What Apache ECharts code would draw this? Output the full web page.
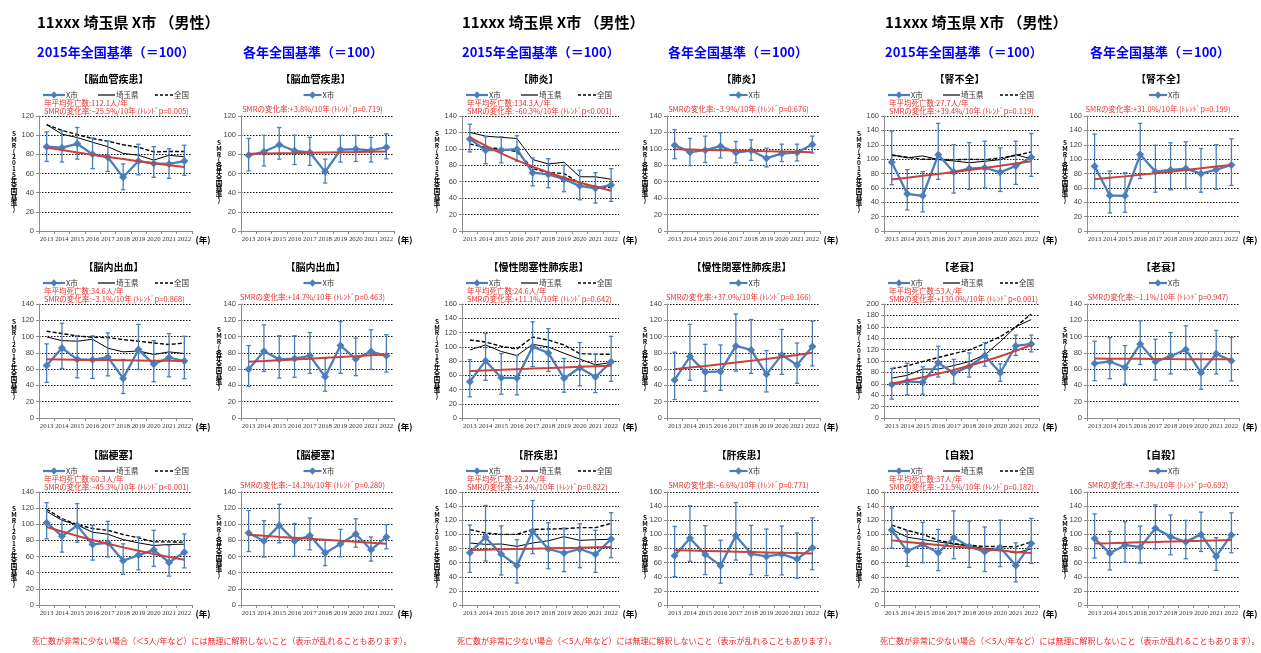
<!DOCTYPE html>
<html>
<head>
<meta charset="utf-8">
<script src="https://cdn.jsdelivr.net/npm/echarts@6/dist/echarts.min.js"></script>
<style>
html,body{margin:0;padding:0;background:#fff;}
#chart{width:1261px;height:653px;}
</style>
</head>
<body>
<div id="chart"></div>
<script>
// ---- data -------------------------------------------------------------
const years = ['2013','2014','2015','2016','2017','2018','2019','2020','2021','2022'];

// causes in panel order (row by row, three per row)
const causes = ['脳血管疾患','肺炎','腎不全','脳内出血','慢性閉塞性肺疾患','老衰','脳梗塞','肝疾患','自殺'];

// SMR of X市 against the 2015 national rate (=100)
const city2015 = [
  [88, 87, 91, 80, 77, 56, 73, 70.5, 70, 73],
  [112, 98.4, 98.4, 99.6, 71, 69, 63, 55, 52, 56],
  [95.6, 51.8, 49, 106, 82, 86.8, 88, 81.6, 90.5, 102.6],
  [64.5, 86, 72, 71.4, 74.7, 48.6, 84, 66, 74.3, 70],
  [51, 80.2, 56.6, 56, 100, 91.4, 55.7, 70.5, 57.5, 78.8],
  [58.6, 64.3, 62.6, 96.8, 78.8, 90.4, 109.6, 79.4, 126.4, 129.9],
  [102, 85.2, 98.4, 75, 77, 54.8, 61.8, 68.3, 52.7, 65.5],
  [74, 95.8, 71.7, 56, 104.3, 79.3, 73.6, 79.3, 71.7, 93.4],
  [106.2, 76.3, 85.6, 73.9, 95.4, 82.8, 75.3, 81.4, 56.1, 87]
];
const low2015 = [
  [72.6, 72, 75, 65, 62, 43, 58.6, 56, 55, 58],
  [96.3, 82, 83, 85, 55, 52.6, 47.8, 38, 34, 36],
  [64.4, 29.4, 26.6, 71.8, 52.7, 57.8, 60, 55, 64.8, 76],
  [43.7, 60.8, 49.4, 48.6, 51.8, 30, 59.6, 44.5, 50.6, 48.2],
  [29.7, 52.9, 33.4, 32.5, 72.4, 65.4, 36.2, 45, 35.7, 51.5],
  [33, 40.6, 41.7, 71.9, 59.7, 71.9, 91, 64.3, 109.6, 116],
  [82, 65.5, 77.8, 55.6, 59.7, 37.9, 43.6, 47.8, 35.8, 46],
  [46.2, 62.3, 42.5, 31.1, 72.7, 51.4, 47.2, 52.8, 46.2, 67],
  [80.5, 54.7, 59.9, 48.7, 65.5, 53.3, 47.3, 54.3, 32.7, 59]
];
const high2015 = [
  [103.5, 104.6, 108, 97, 94, 70, 90.5, 88, 86, 89.5],
  [130, 114.7, 114.7, 116, 89, 88, 80, 74, 71, 76],
  [139, 85.4, 82.6, 149.7, 120, 123, 125, 115.6, 125, 135.7],
  [91, 116.3, 101.2, 100.8, 104.5, 72, 115, 95, 103.7, 100.4],
  [82, 118.7, 90.4, 87.7, 135, 125.4, 83.5, 106, 89.5, 114.6],
  [87, 96, 89.9, 125.8, 103, 114.2, 132.2, 95, 145.5, 145.5],
  [126.8, 106.2, 125.6, 98.8, 103.7, 75.8, 84.4, 92.6, 74, 88],
  [113.3, 141, 112, 92.5, 148, 116.6, 109, 115, 105.7, 130.7],
  [137.5, 104.8, 117, 107, 133.3, 118.8, 110.4, 120.2, 88, 122.6]
];
// 埼玉県 and 全国, same base
const pref2015 = [
  [111, 101, 97.5, 92.6, 88, 81, 79, 74, 79, 77.5],
  [120, 115.5, 114, 112.6, 87, 81.6, 83.7, 66, 66, 63],
  [106.3, 101.7, 104.5, 99.3, 97.5, 95, 97, 99.3, 106.3, 100.3],
  [99.6, 95, 94.3, 96.7, 85.7, 81.2, 82.4, 78, 81.2, 79.2],
  [95.5, 102.5, 93.3, 87.7, 103.4, 99.7, 90.9, 82.6, 74.7, 77.9],
  [70, 74.8, 85.8, 85.8, 92, 99, 110.7, 134, 160, 172.7],
  [116, 105, 99.2, 90.2, 87.7, 81, 77, 73.7, 75, 75.3],
  [87.8, 85.9, 86.4, 83, 87.8, 91, 96.7, 91.5, 92.5, 93],
  [107, 96, 92.6, 89.4, 86, 83.7, 80, 78.6, 73.5, 79.5]
];
const nation2015 = [
  [111, 105, 100.7, 96.5, 93.7, 90, 87.4, 82.5, 83, 83],
  [106, 101.6, 100, 96.7, 76, 71, 70, 58, 54, 53],
  [105.4, 102.6, 99.8, 99.8, 99, 99.8, 99.3, 101.7, 105, 110],
  [106.5, 103.7, 100.8, 99.2, 98.8, 96.3, 94.3, 92.2, 90.2, 92.2],
  [109.4, 106.6, 100.6, 96.9, 113.6, 109.4, 102.5, 90.4, 89.5, 89.5],
  [86.4, 91.6, 99, 106, 113, 119.4, 130.4, 142.6, 160, 182.6],
  [118.6, 107, 99.6, 94.7, 92.6, 87.3, 83.2, 78.2, 78.2, 77.8],
  [106.7, 102, 100, 100, 107, 107.6, 108, 109.5, 109.5, 115.6],
  [113.2, 105.7, 100, 91.7, 87, 84.7, 82.8, 82.8, 82.3, 89.4]
];
// fitted trend of X市, 2015 base
const trend2015 = [
  [87, 84.5, 82.0, 79.6, 77.3, 75.1, 72.9, 70.8, 68.7, 66.7],
  [114, 103.8, 94.5, 86.0, 78.3, 71.3, 64.9, 59.1, 53.8, 49.0],
  [71.8, 74.2, 76.8, 79.4, 82.1, 84.9, 87.8, 90.8, 93.9, 97.0],
  [72, 71.8, 71.6, 71.3, 71.1, 70.9, 70.7, 70.4, 70.2, 70],
  [66, 66.8, 67.6, 68.5, 69.3, 70.1, 71.0, 71.8, 72.7, 73.5],
  [60.5, 65.8, 71.5, 77.7, 84.4, 91.8, 99.7, 108.4, 117.8, 128.0],
  [96.7, 91.0, 85.6, 80.6, 75.9, 71.4, 67.2, 63.2, 59.5, 56.0],
  [78, 78.4, 78.9, 79.3, 79.8, 80.2, 80.7, 81.1, 81.6, 82],
  [91.5, 89.3, 87.1, 85.0, 82.9, 80.9, 78.9, 77.0, 75.1, 73.5]
];

// SMR of X市 against each year's national rate (=100)
const cityAnnual = [
  [79, 82.7, 90, 83.7, 82, 61.7, 84.8, 85.5, 84, 87.5],
  [104.5, 96, 98.4, 103.3, 95.5, 98, 88.6, 94.3, 95.5, 105.3],
  [90, 49.4, 49, 106.3, 82.6, 85, 86.8, 79.8, 85.4, 91.9],
  [60, 82, 72, 73, 76.3, 50.7, 88.9, 72.6, 81.6, 76.3],
  [46.7, 75.5, 56.4, 57.2, 88.5, 83.6, 53.6, 77.5, 65, 87.7],
  [67, 69.4, 62, 91, 69, 75.9, 84, 55.6, 79, 70.2],
  [89.2, 79.4, 98.6, 79.4, 86, 64.3, 75.7, 88, 68.4, 84.3],
  [69.6, 94.5, 71.6, 55.7, 98.2, 72.5, 68.8, 72, 65, 81],
  [94, 73.4, 85.1, 81.9, 108.5, 96.8, 89.4, 100, 68.8, 99.2]
];
const lowAnnual = [
  [62.8, 68, 75, 69.4, 68.4, 50, 71.9, 72.5, 72, 75.3],
  [88, 79.6, 83.3, 89, 83, 86, 78, 84.5, 85.3, 95],
  [58.8, 25.2, 26, 73, 54, 57.4, 58.8, 54, 58, 63.4],
  [38.6, 57.2, 49, 50, 54.8, 32.9, 54.8, 52, 59.7, 56.4],
  [22.7, 46.3, 32.9, 34, 57.6, 54.8, 32, 53.6, 42.6, 64],
  [45.9, 48.3, 41.4, 65.7, 46.7, 54, 59.3, 35.3, 54, 45.5],
  [66.3, 59.4, 77, 60.2, 68.4, 48.7, 59.8, 71.6, 54.4, 69.6],
  [40.2, 61.8, 43, 30.9, 63.6, 43, 41.6, 42.6, 37.9, 50],
  [66.4, 49.6, 60.4, 59.4, 79.5, 71.1, 65.5, 75.8, 49.1, 74]
];
const highAnnual = [
  [96.6, 99.8, 108, 100, 97.7, 75, 99.8, 99.8, 97.7, 101.5],
  [123.3, 112.7, 115.5, 119.6, 109, 111, 100.8, 105.7, 105.7, 115.5],
  [134.8, 83.5, 81, 149.7, 119.4, 122.7, 124, 114.7, 120, 128.3],
  [89, 114.4, 101, 101, 105, 73, 118.5, 98.2, 108.4, 102.3],
  [80.8, 115, 90.5, 89.7, 127.8, 121, 82.8, 108.8, 92, 119],
  [94.2, 98.6, 88.9, 119.3, 96.6, 105, 113.2, 79.5, 107.5, 99],
  [117, 104.4, 124.8, 101, 107.7, 80.6, 93.7, 106.8, 84.3, 99.5],
  [111.3, 140.4, 112.3, 91.7, 145, 112.7, 107.6, 111.8, 102, 123.5],
  [129, 104.3, 117.9, 111.8, 141.8, 127.3, 119.8, 131.5, 95.4, 130.5]
];
const trendAnnual = [
  [80.5, 80.8, 81.1, 81.3, 81.6, 81.9, 82.2, 82.4, 82.7, 83.0],
  [99.5, 99.1, 98.7, 98.3, 97.9, 97.6, 97.2, 96.8, 96.4, 96.0],
  [72, 74.0, 76.0, 78.1, 80.3, 82.5, 84.8, 87.2, 89.6, 92.0],
  [69, 69.9, 70.9, 71.9, 72.9, 73.9, 74.9, 75.9, 77.0, 78.0],
  [60, 61.9, 63.9, 66.0, 68.1, 70.3, 72.6, 74.9, 77.4, 80.0],
  [73, 72.9, 72.8, 72.7, 72.6, 72.4, 72.3, 72.2, 72.1, 72],
  [87, 85.7, 84.4, 83.2, 82.0, 80.8, 79.6, 78.4, 77.2, 76.0],
  [77.5, 77.0, 76.5, 76.0, 75.5, 75.0, 74.5, 74.0, 73.5, 73],
  [87, 87.5, 88.1, 88.7, 89.2, 89.8, 90.4, 90.9, 91.5, 92]
];

// value-axis tops
const yMax2015 = [120, 140, 160, 140, 160, 200, 140, 160, 160];
const yMaxAnnual = [120, 140, 160, 140, 140, 140, 140, 160, 160];

// annotation figures
const avgDeaths = ['112.1', '134.3', '27.7', '34.6', '24.6', '53', '60.3', '22.2', '37'];
const change2015 = ['−25.5', '−60.3', '+39.4', '−3.1', '+11.1', '+130.0', '−45.3', '+5.4', '−21.5'];
const trendP2015 = ['=0.005', '<0.001', '=0.119', '=0.868', '=0.642', '<0.001', '<0.001', '=0.822', '=0.182'];
const changeAnnual = ['+3.8', '−3.9', '+31.0', '+14.7', '+37.0', '−1.1', '−14.1', '−6.6', '+7.3'];
const trendPAnnual = ['=0.719', '=0.676', '=0.199', '=0.463', '=0.166', '=0.947', '=0.280', '=0.771', '=0.692'];

// ---- layout & style ---------------------------------------------------
const CJK = '"Noto Sans CJK JP", "Noto Sans", sans-serif';
const BLUE = '#4A7EBB';
const TREND_RED = '#C8413B';
const NOTE_RED = '#E5302A';
const AXIS_GREY = '#8c8c8c';

const leftX = [39, 462, 884], leftW = [153, 157, 155];
const rightX = [241, 667, 1087], rightW = [153, 153, 152];
const rowTop = [116, 304, 492], rowH = [115, 114, 113];
const headX = [37, 462, 885], headAnnualX = [243, 668, 1090];

const option = {
  animation: false,
  backgroundColor: '#fff',
  grid: [], xAxis: [], yAxis: [], series: [],
  graphic: { elements: [] }
};
const G = option.graphic.elements;

function text(x, y, str, st) {
  G.push({
    type: 'text', x: x, y: y, silent: true,
    style: Object.assign({
      text: str, fill: '#000', fontSize: 8, fontFamily: CJK,
      align: 'left', textAlign: 'left', verticalAlign: 'middle', textVerticalAlign: 'middle'
    }, st || {})
  });
}
function segment(x1, y1, x2, y2, stroke, width, dash) {
  G.push({
    type: 'line', silent: true,
    shape: { x1: x1, y1: y1, x2: x2, y2: y2 },
    style: { stroke: stroke, lineWidth: width, lineDash: dash || null }
  });
}
function diamond(cx, cy) {
  G.push({
    type: 'polygon', silent: true,
    shape: { points: [[cx, cy - 3.8], [cx + 3.3, cy], [cx, cy + 3.8], [cx - 3.3, cy]] },
    style: { fill: BLUE }
  });
}
function cityKey(x1, x2, y) {
  segment(x1, y, x2, y, BLUE, 2.2);
  diamond((x1 + x2) / 2, y);
  text(x2 + 1, y, 'X市', { fontSize: 7.5, fill: '#333' });
}

function renderError(params, api) {
  const i = api.value(0);
  const lo = api.coord([i, api.value(1)]);
  const hi = api.coord([i, api.value(2)]);
  const cap = 2.2;
  const st = { stroke: BLUE, lineWidth: 1.3 };
  return {
    type: 'group',
    children: [
      { type: 'line', shape: { x1: lo[0], y1: lo[1], x2: hi[0], y2: hi[1] }, style: st },
      { type: 'line', shape: { x1: lo[0] - cap, y1: lo[1], x2: lo[0] + cap, y2: lo[1] }, style: st },
      { type: 'line', shape: { x1: hi[0] - cap, y1: hi[1], x2: hi[0] + cap, y2: hi[1] }, style: st }
    ]
  };
}

let idx = 0;
function addPanel(gx, gy, gw, gh, yMax, city, lo, hi, trend, pref, nation) {
  option.grid.push({ left: gx, top: gy, width: gw, height: gh });
  option.xAxis.push({
    type: 'category', gridIndex: idx, data: years, boundaryGap: true,
    axisLine: { lineStyle: { color: AXIS_GREY, width: 1 } },
    axisTick: { show: true, interval: 0, length: 3, lineStyle: { color: AXIS_GREY } },
    axisLabel: { interval: 0, fontSize: 6.8, fontFamily: '"Liberation Serif", serif', color: '#333', margin: 5 },
    splitLine: { show: false }
  });
  option.yAxis.push({
    type: 'value', gridIndex: idx, min: 0, max: yMax, interval: 20,
    axisLine: { show: true, lineStyle: { color: AXIS_GREY, width: 1 } },
    axisTick: { show: true, length: 3, lineStyle: { color: AXIS_GREY } },
    axisLabel: { fontSize: 7.5, fontFamily: '"Liberation Sans", Arial, sans-serif', color: '#444', margin: 5 },
    splitLine: { lineStyle: { color: '#111', width: 1, type: [1.5, 1.5] } }
  });
  if (pref) {
    option.series.push({
      name: '埼玉県', type: 'line', xAxisIndex: idx, yAxisIndex: idx, data: pref,
      symbol: 'none', z: 2, lineStyle: { color: '#000', width: 1 }, itemStyle: { color: '#000' }
    });
    option.series.push({
      name: '全国', type: 'line', xAxisIndex: idx, yAxisIndex: idx, data: nation,
      symbol: 'none', z: 2, lineStyle: { color: '#000', width: 1.4, type: [4, 2] }, itemStyle: { color: '#000' }
    });
  }
  option.series.push({
    name: 'X市', type: 'custom', xAxisIndex: idx, yAxisIndex: idx, z: 3,
    renderItem: renderError,
    encode: { x: 0, y: [1, 2] },
    data: years.map((_, i) => [i, lo[i], hi[i]])
  });
  option.series.push({
    name: 'X市', type: 'line', xAxisIndex: idx, yAxisIndex: idx, data: city, z: 4,
    symbol: 'diamond', symbolSize: 8, showSymbol: true,
    lineStyle: { color: BLUE, width: 2.3 }, itemStyle: { color: BLUE }
  });
  option.series.push({
    name: 'トレンド', type: 'line', xAxisIndex: idx, yAxisIndex: idx, data: trend, z: 5,
    symbol: 'none', lineStyle: { color: TREND_RED, width: 2 }, itemStyle: { color: TREND_RED }
  });
  idx++;
}

// ---- headers and footers per column group ------------------------------
for (let g = 0; g < 3; g++) {
  text(headX[g], 22, '11xxx 埼玉県 X市 （男性）', { fontSize: 15, fontWeight: 'bold' });
  text(headX[g], 52, '2015年全国基準（＝100）', { fontSize: 13, fontWeight: 'bold', fill: '#0000FF' });
  text(headAnnualX[g], 52, '各年全国基準（＝100）', { fontSize: 13, fontWeight: 'bold', fill: '#0000FF' });
  text(headX[g] - 5, 641, '死亡数が非常に少ない場合（＜5人/年など）には無理に解釈しないこと（表示が乱れることもあります）。',
    { fontSize: 8, fill: '#F02020' });
}

// ---- panels -----------------------------------------------------------
for (let c = 0; c < causes.length; c++) {
  const row = Math.floor(c / 3), g = c % 3;
  const top = rowTop[row], h = rowH[row];

  // 2015 base panel
  const lx = leftX[g], lw = leftW[g];
  addPanel(lx, top, lw, h, yMax2015[c], city2015[c], low2015[c], high2015[c], trend2015[c], pref2015[c], nation2015[c]);
  text(lx + lw / 2 - 2, top - 37, '【' + causes[c] + '】', { fontSize: 10, fontWeight: 'bold', align: 'center', textAlign: 'center' });
  cityKey(lx + 4, lx + 26, top - 21);
  segment(lx + 59, top - 21, lx + 76, top - 21, '#000', 1.2);
  text(lx + 77, top - 21, '埼玉県', { fontSize: 7.5, fill: '#333' });
  segment(lx + 116, top - 21, lx + 134, top - 21, '#000', 1.5, [3, 2]);
  text(lx + 135, top - 21, '全国', { fontSize: 7.5, fill: '#333' });
  text(lx + 5, top - 13, '年平均死亡数:' + avgDeaths[c] + '人/年', { fontSize: 7.5, fill: NOTE_RED });
  text(lx + 5, top - 4.5, 'SMRの変化率:' + change2015[c] + '%/10年 (ﾄﾚﾝﾄﾞp' + trendP2015[c] + ')', { fontSize: 7.5, fill: NOTE_RED });
  text(lx - 25, top + h / 2 - 2, 'SMR(2015年全国基準)'.split('').join('\n'),
    { fontSize: 6.5, fontWeight: 'bold', lineHeight: 5.8, align: 'center', textAlign: 'center' });
  text(lx + lw + 11, top + h + 9, '(年)', { fontSize: 8.5, fontWeight: 'bold', align: 'center', textAlign: 'center' });

  // each-year base panel
  const rx = rightX[g], rw = rightW[g], rc = rx + rw / 2;
  addPanel(rx, top, rw, h, yMaxAnnual[c], cityAnnual[c], lowAnnual[c], highAnnual[c], trendAnnual[c], null, null);
  text(rc - 2, top - 37, '【' + causes[c] + '】', { fontSize: 10, fontWeight: 'bold', align: 'center', textAlign: 'center' });
  cityKey(rc - 14, rc + 4, top - 21);
  text(rc - 5, top - 7, 'SMRの変化率:' + changeAnnual[c] + '%/10年 (ﾄﾚﾝﾄﾞp' + trendPAnnual[c] + ')',
    { fontSize: 7.5, fill: NOTE_RED, align: 'center', textAlign: 'center' });
  text(rx - 22, top + h / 2 - 2, 'SMR(各年全国基準)'.split('').join('\n'),
    { fontSize: 6.5, fontWeight: 'bold', lineHeight: 5.8, align: 'center', textAlign: 'center' });
  text(rx + rw + 11, top + h + 9, '(年)', { fontSize: 8.5, fontWeight: 'bold', align: 'center', textAlign: 'center' });
}

const chart = echarts.init(document.getElementById('chart'), null, { renderer: 'canvas' });
chart.setOption(option);
</script>
</body>
</html>
